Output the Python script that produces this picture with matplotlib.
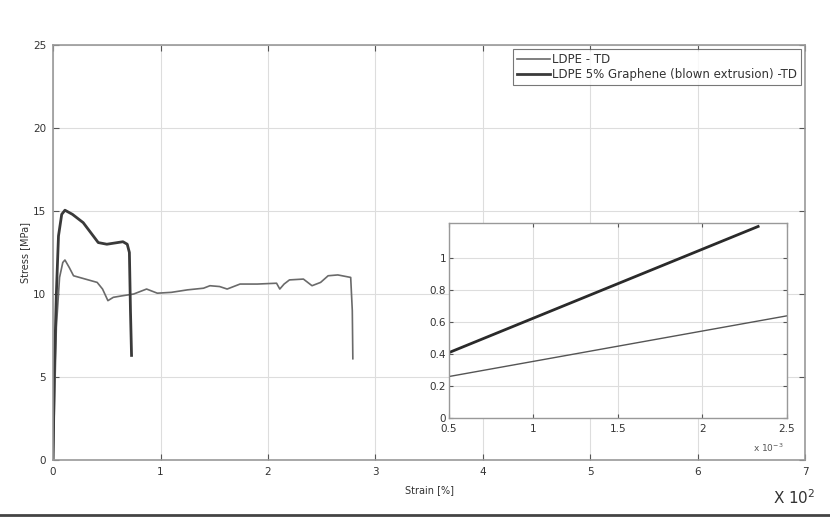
import numpy as np
import matplotlib.pyplot as plt
from matplotlib.lines import Line2D

# LDPE - TD (main curve), strain in units of 10^2 %
ldpe_strain = [0.0, 0.015, 0.03, 0.06, 0.09, 0.11, 0.15, 0.19, 0.3, 0.41, 0.46, 0.51,
               0.56, 0.65, 0.75, 0.87, 0.97, 1.1, 1.25, 1.4, 1.46, 1.55, 1.62, 1.74,
               1.9, 2.08, 2.11, 2.15, 2.2, 2.33, 2.41, 2.49, 2.56, 2.65, 2.77, 2.785, 2.79]
ldpe_stress = [0.0, 4.0, 8.0, 11.0, 11.9, 12.05, 11.6, 11.1, 10.9, 10.7, 10.3, 9.6,
               9.8, 9.9, 10.0, 10.3, 10.05, 10.1, 10.25, 10.35, 10.5, 10.45, 10.3, 10.6,
               10.6, 10.65, 10.3, 10.6, 10.85, 10.9, 10.5, 10.7, 11.1, 11.15, 11.0, 9.0, 6.1]

# LDPE 5% Graphene (blown extrusion) - TD
gr_strain = [0.0, 0.01, 0.03, 0.05, 0.08, 0.11, 0.18, 0.28, 0.35, 0.42, 0.5, 0.65,
             0.69, 0.71, 0.72, 0.73]
gr_stress = [0.0, 5.0, 10.0, 13.5, 14.8, 15.05, 14.8, 14.3, 13.7, 13.1, 13.0, 13.15,
             13.0, 12.5, 9.0, 6.3]

# inset (strain x 10^-3)
ins_ldpe_x = [0.5, 2.5]
ins_ldpe_y = [0.26, 0.64]
ins_gr_x = [0.5, 2.33]
ins_gr_y = [0.41, 1.2]

fig = plt.figure(figsize=(8.3, 5.18), dpi=100)
ax = fig.add_axes([0.064, 0.112, 0.906, 0.801])

ax.plot(ldpe_strain, ldpe_stress, color='#6a6a6a', lw=1.2, label='LDPE - TD')
ax.plot(gr_strain, gr_stress, color='#3a3a3a', lw=2.0,
        label='LDPE 5% Graphene (blown extrusion) -TD')
ax.set_xlim(0, 7)
ax.set_ylim(0, 25)
ax.set_xticks(range(0, 8))
ax.set_yticks(range(0, 26, 5))
ax.grid(True, color='#dddddd', lw=0.8)
ax.tick_params(direction='in', top=True, right=True, labelsize=7.5, colors='#555555',
               labelcolor='#333333', length=4, pad=5)
for s in ax.spines.values():
    s.set_color('#999999')
    s.set_linewidth(1.2)
ax.set_xlabel('Strain [%]', fontsize=7, color='#333333', labelpad=6)
ax.set_ylabel('Stress [MPa]', fontsize=7, color='#333333', labelpad=2)
leg = ax.legend(loc='upper right', fontsize=8.5, frameon=True, fancybox=False,
                handlelength=2.8, handletextpad=0.2, borderpad=0.3, labelspacing=0.2,
                borderaxespad=0.35)
leg.get_frame().set_edgecolor('#555555')
leg.get_frame().set_linewidth(0.8)
for t in leg.get_texts():
    t.set_color('#333333')

# inset
ins = fig.add_axes([0.541, 0.193, 0.407, 0.376])
ins.plot(ins_ldpe_x, ins_ldpe_y, color='#555555', lw=1.0)
ins.plot(ins_gr_x, ins_gr_y, color='#2a2a2a', lw=2.0)
ins.set_xlim(0.5, 2.5)
ins.set_ylim(0, 1.22)
ins.set_xticks([0.5, 1, 1.5, 2, 2.5])
ins.set_xticklabels(['0.5', '1', '1.5', '2', '2.5'])
ins.set_yticks([0, 0.2, 0.4, 0.6, 0.8, 1])
ins.set_yticklabels(['0', '0.2', '0.4', '0.6', '0.8', '1'])
ins.grid(True, color='#dddddd', lw=0.8)
ins.tick_params(direction='in', top=True, right=True, labelsize=7.5, colors='#555555',
                labelcolor='#333333', length=3, pad=2)
ins.tick_params(axis='x', pad=4)
for s in ins.spines.values():
    s.set_color('#999999')
    s.set_linewidth(1.0)
ins.text(0.99, -0.12, 'x 10$^{-3}$', transform=ins.transAxes, ha='right', va='top',
         fontsize=6.5, color='#555555')

fig.text(0.957, 0.04, 'X 10$^2$', fontsize=11, color='#333333', ha='center', va='center')
fig.add_artist(Line2D([0, 1], [0.006, 0.006], transform=fig.transFigure,
                      color='#444444', lw=2))

fig.savefig('out.png', dpi=100, facecolor='white')
